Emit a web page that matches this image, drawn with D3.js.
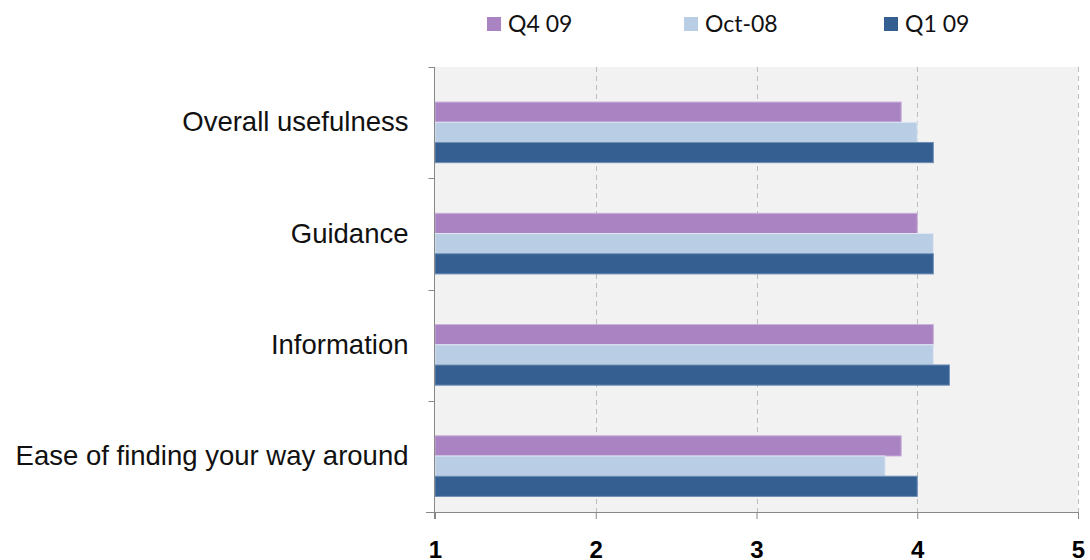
<!doctype html>
<html lang="en">
<head>
<meta charset="UTF-8">
<title>Chart</title>
<script src="https://d3js.org/d3.v7.min.js"></script>
<style>
  body { margin: 0; background: #fff; }
</style>
</head>
<body>
<div id="chart"></div>
<script>
  // Data
  const categories = ['Overall usefulness', 'Guidance', 'Information', 'Ease of finding your way around'];
  const seriesNames = ['Q4 09', 'Oct-08', 'Q1 09'];
  const q409 = [3.9, 4.0, 4.1, 3.9];
  const oct08 = [4.0, 4.1, 4.1, 3.8];
  const q109 = [4.1, 4.1, 4.2, 4.0];
  const xTicks = [1, 2, 3, 4, 5];
  const colors = ['#aa84c2', '#b9cde4', '#355f91'];
  const strokes = ['#c9b0da', '#dfe8f3', '#6f8fb5'];

  const seriesValues = [q409, oct08, q109];

  const width = 1090, height = 560;
  const plot = { left: 435, right: 1078, top: 67, bottom: 512 };

  const svg = d3.select('#chart')
    .append('svg')
    .attr('width', width)
    .attr('height', height);

  const xScale = d3.scaleLinear()
    .domain([1, 5])
    .range([plot.left, plot.right]);

  const yScale = d3.scaleBand()
    .domain(categories)
    .range([plot.top, plot.bottom]);

  const bw = yScale.bandwidth();
  const innerScale = d3.scaleBand()
    .domain(seriesNames)
    .range([bw * 0.315, bw * 0.86]);

  // plot background
  svg.append('rect')
    .attr('x', plot.left)
    .attr('y', plot.top)
    .attr('width', plot.right - plot.left)
    .attr('height', plot.bottom - plot.top)
    .attr('fill', '#f2f2f2');

  // gridlines
  svg.append('g')
    .selectAll('line')
    .data(xTicks.slice(1))
    .join('line')
    .attr('x1', d => Math.round(xScale(d)) + 0.5)
    .attr('x2', d => Math.round(xScale(d)) + 0.5)
    .attr('y1', plot.top)
    .attr('y2', plot.bottom)
    .attr('stroke', '#bdbdbd')
    .attr('stroke-dasharray', '5,4');

  // bars
  const groups = svg.append('g')
    .selectAll('g')
    .data(categories)
    .join('g')
    .attr('transform', d => `translate(0, ${yScale(d)})`);

  seriesNames.forEach((name, si) => {
    groups.append('rect')
      .attr('x', xScale(1))
      .attr('y', (d, i) => innerScale(name))
      .attr('width', (d, i) => xScale(seriesValues[si][i]) - xScale(1))
      .attr('height', innerScale.bandwidth())
      .attr('fill', colors[si])
      .attr('stroke', strokes[si])
      .attr('stroke-width', 1);
  });

  // x axis
  const xAxis = d3.axisBottom(xScale)
    .tickValues(xTicks)
    .tickSize(7)
    .tickFormat(d3.format('d'));

  const gx = svg.append('g')
    .attr('transform', `translate(0, ${plot.bottom})`)
    .call(xAxis);
  gx.select('.domain').attr('stroke', '#888').attr('d', `M${plot.left - 9},0.5H${plot.right}`);
  gx.selectAll('.tick line').attr('stroke', '#888');
  gx.selectAll('.tick text')
    .attr('y', 29)
    .attr('dy', '0.71em')
    .attr('fill', '#000')
    .style('font-family', 'Liberation Sans, Arial, sans-serif')
    .style('font-size', '24px')
    .style('font-weight', 'bold');

  // y axis
  const yAxis = d3.axisLeft(yScale)
    .tickSize(0)
    .tickPadding(26);

  const gy = svg.append('g')
    .attr('transform', `translate(${plot.left - 0.5}, 0)`)
    .call(yAxis);
  gy.select('.domain').attr('stroke', '#888').attr('d', `M0,${plot.top}V${plot.bottom + 7}`);
  gy.selectAll('.tick text')
    .attr('fill', '#111')
    .style('font-family', 'Liberation Sans, Arial, sans-serif')
    .style('font-size', '27.5px');

  // category boundary ticks
  gy.append('g')
    .selectAll('line')
    .data(categories)
    .join('line')
    .attr('x1', -6)
    .attr('x2', 0)
    .attr('y1', d => Math.round(yScale(d)) + 0.5)
    .attr('y2', d => Math.round(yScale(d)) + 0.5)
    .attr('stroke', '#888');

  // legend
  const legendX = [487, 684, 884];
  const legend = svg.append('g')
    .selectAll('g')
    .data(seriesNames)
    .join('g')
    .attr('transform', (d, i) => `translate(${legendX[i]}, 24)`);

  legend.append('rect')
    .attr('x', 0)
    .attr('y', -7)
    .attr('width', 14)
    .attr('height', 14)
    .attr('fill', (d, i) => colors[i]);

  legend.append('text')
    .attr('x', 21)
    .attr('y', 0)
    .attr('dy', '0.35em')
    .attr('fill', '#111')
    .style('font-family', 'Lato, sans-serif')
    .style('font-size', '23px')
    .text(d => d);
</script>
</body>
</html>
